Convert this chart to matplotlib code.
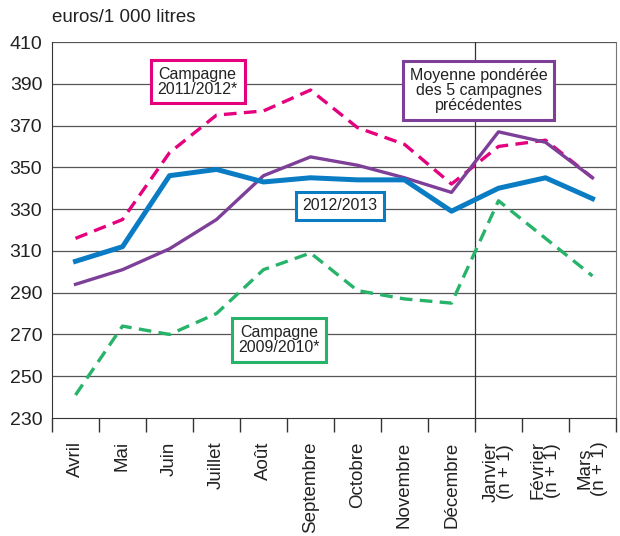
import matplotlib
matplotlib.use("Agg")
import matplotlib.pyplot as plt

plt.rcParams['font.family'] = ['Liberation Sans', 'DejaVu Sans']

months = ["Avril", "Mai", "Juin", "Juillet", "Août", "Septembre", "Octobre",
          "Novembre", "Décembre", "Janvier\n(n + 1)", "Février\n(n + 1)", "Mars\n(n + 1)"]
s_2012_2013 = [305, 312, 346, 349, 343, 345, 344, 344, 329, 340, 345, 335]
s_moyenne = [294, 301, 311, 325, 346, 355, 351, 345, 338, 367, 362, 345]
s_2011_2012 = [316, 325, 357, 375, 377, 387, 369, 361, 342, 360, 363, 345]
s_2009_2010 = [241, 274, 270, 280, 301, 309, 291, 287, 285, 334, 316, 298]
yticks = [230, 250, 270, 290, 310, 330, 350, 370, 390, 410]

c_blue = "#0a7cc4"
c_pink = "#e5007d"
c_purple = "#7d3f98"
c_green = "#27b36a"

fig = plt.figure(figsize=(6.2, 5.36), dpi=100)
ax = fig.add_axes([52/620, 1-418/536, (616-52)/620, (418-42)/536])

x = list(range(len(months)))
ax.set_xlim(-0.5, len(months) - 0.5)
ax.set_ylim(230, 410)

for v in yticks[1:]:
    ax.axhline(v, color="#555555", lw=0.9, zorder=1)
ax.axvline(8.5, color="#333333", lw=0.9, zorder=1)

ax.plot(x, s_2009_2010, color=c_green, lw=2.4, dashes=(3.8, 2.2), zorder=3)
ax.plot(x, s_2011_2012, color=c_pink, lw=2.4, dashes=(3.8, 2.2), zorder=3)
ax.plot(x, s_moyenne, color=c_purple, lw=2.4, zorder=4)
ax.plot(x, s_2012_2013, color=c_blue, lw=3.6, zorder=5)

ax.set_yticks(yticks)
ax.set_yticklabels([str(v) for v in yticks], fontsize=14, color="#222222")
ax.tick_params(axis='y', length=0, pad=7)

ax.set_xticks([i - 0.5 for i in range(len(months) + 1)])
ax.set_xticklabels([])
ax.tick_params(axis='x', length=10, width=1, color="#333333", direction='out')
for i, m in enumerate(months):
    ax.text(i, -0.062, m, transform=ax.get_xaxis_transform(), rotation=90,
            ha='center', va='top', fontsize=13.5, color="#222222",
            linespacing=0.8)

ax.spines["top"].set_visible(False)
ax.spines["right"].set_color("#777777")
ax.spines["left"].set_color("#333333")
ax.spines["bottom"].set_color("#333333")

fig.text(52/620, 1-18/536, "euros/1 000 litres", fontsize=13.5, color="#222222",
         ha='left', va='center')

def box(xp, yp, txt, col):
    ax.text(xp, yp, txt, fontsize=11.5, color="#222222", ha='center', va='center',
            linespacing=1.0, zorder=10,
            bbox=dict(boxstyle="square,pad=0.42", fc="white", ec=col, lw=2.2))

box(2.6, 391, "Campagne\n2011/2012*", c_pink)
box(8.58, 386.8, "Moyenne pondérée\ndes 5 campagnes\nprécédentes", c_purple)
box(5.63, 331.5, "2012/2013", c_blue)
box(4.33, 267.4, "Campagne\n2009/2010*", c_green)

fig.savefig("out.png", dpi=100)
